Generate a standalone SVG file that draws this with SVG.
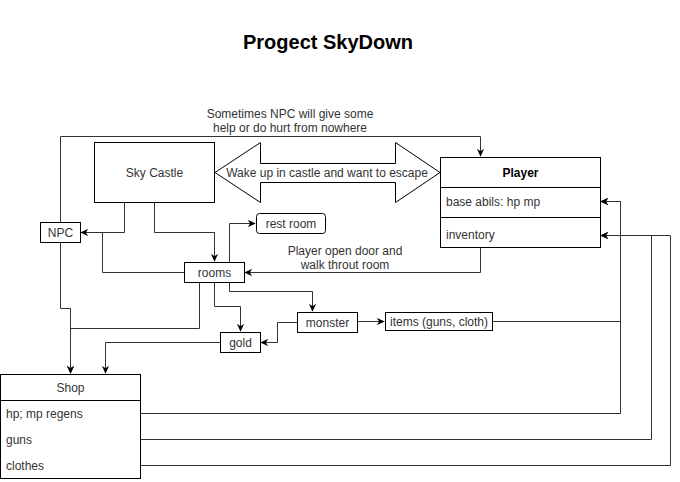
<svg xmlns="http://www.w3.org/2000/svg" width="680" height="482" viewBox="0 0 680 482">
<defs>
<style>
text{font-family:"Liberation Sans",Arial,sans-serif;font-size:12px;fill:#333}
.box{fill:#fff;stroke:#000;stroke-width:1}
.ln{fill:none;stroke:#333;stroke-width:1}
.c{text-anchor:middle}
</style>
<marker id="a" viewBox="0 0 10 10" refX="9" refY="5" markerWidth="8" markerHeight="8" markerUnits="userSpaceOnUse" orient="auto">
<path d="M0,0.5 L10,5 L0,9.5 L3,5 z" fill="#000"/>
</marker>
</defs>
<rect width="680" height="482" fill="#fff"/>
<text x="328" y="49" class="c" style="font-size:20px;font-weight:bold;fill:#000">Progect SkyDown</text>

<g id="connectors">
<path class="ln" d="M124.5,202 V232.5 H81" marker-end="url(#a)"/>
<path class="ln" d="M154.5,202 V232.5 H214.5 V261" marker-end="url(#a)"/>
<path class="ln" d="M184,272.5 H102.5 V232.5"/>
<path class="ln" d="M229.5,262 V223.5 H255" marker-end="url(#a)"/>
<path class="ln" d="M480.5,247 V272.5 H245" marker-end="url(#a)"/>
<path class="ln" d="M60.5,222 V136.5 H480.5 V156" marker-end="url(#a)"/>
<path class="ln" d="M60.5,242 V308.5 H70.5 V373" marker-end="url(#a)"/>
<path class="ln" d="M199.5,282 V328.5 H70.5 V373" marker-end="url(#a)"/>
<path class="ln" d="M214.5,282 V306.5 H240.5 V331" marker-end="url(#a)"/>
<path class="ln" d="M229.5,282 V291.5 H312.5 V311" marker-end="url(#a)"/>
<path class="ln" d="M297,322.5 H277.5 V342.5 H261" marker-end="url(#a)"/>
<path class="ln" d="M220,342.5 H105.5 V373" marker-end="url(#a)"/>
<path class="ln" d="M357,321.5 H384" marker-end="url(#a)"/>
<path class="ln" d="M492,321.5 H620.5 V201.5 H601" marker-end="url(#a)"/>
<path class="ln" d="M140,413.5 H620.5 V201.5 H601" marker-end="url(#a)"/>
<path class="ln" d="M140,439.5 H651.5 V235.5 H601" marker-end="url(#a)"/>
<path class="ln" d="M140,465.5 H670.5 V235.5 H601" marker-end="url(#a)"/>
<text x="290" y="118" class="c">Sometimes NPC will give some</text>
<text x="290" y="132" class="c">help or do hurt from nowhere</text>
<text x="345" y="255" class="c">Player open door and</text>
<text x="345" y="269" class="c">walk throut room</text>
</g>

<g id="sky-castle">
<rect class="box" x="94.5" y="142.5" width="120" height="60"/>
<text x="154.5" y="176.5" class="c">Sky Castle</text>
</g>

<g id="escape-arrow">
<path class="box" d="M215,172.5 L260.5,142.5 V163.5 H395.5 V142.5 L440,172.5 L395.5,202.5 V182.5 H260.5 V202.5 Z"/>
<text x="327" y="176.5" class="c">Wake up in castle and want to escape</text>
</g>

<g id="player">
<rect class="box" x="440.5" y="157.5" width="160" height="90"/>
<line class="box" x1="440.5" y1="187.5" x2="600.5" y2="187.5"/>
<line class="box" x1="440.5" y1="217.5" x2="600.5" y2="217.5"/>
<text x="520.5" y="176.5" class="c" style="font-weight:bold;fill:#000">Player</text>
<text x="446" y="206">base abils: hp mp</text>
<text x="446" y="239">inventory</text>
</g>

<g id="npc">
<rect class="box" x="40.5" y="222.5" width="40" height="20"/>
<text x="60.5" y="236.5" class="c">NPC</text>
</g>

<g id="rooms">
<rect class="box" x="184.5" y="262.5" width="60" height="20"/>
<text x="214.5" y="276.5" class="c">rooms</text>
</g>

<g id="rest-room">
<rect class="box" x="256.5" y="213.5" width="69" height="20" rx="3"/>
<text x="291" y="227.5" class="c">rest room</text>
</g>

<g id="monster">
<rect class="box" x="297.5" y="312.5" width="60" height="20"/>
<text x="327.5" y="326.5" class="c">monster</text>
</g>

<g id="items">
<rect class="box" x="385.5" y="312.5" width="107" height="18"/>
<text x="439" y="325.5" class="c">items (guns, cloth)</text>
</g>

<g id="gold">
<rect class="box" x="220.5" y="332.5" width="40" height="20"/>
<text x="240.5" y="346.5" class="c">gold</text>
</g>

<g id="shop">
<rect class="box" x="0.5" y="374.5" width="140" height="104"/>
<line class="box" x1="0.5" y1="400.5" x2="140.5" y2="400.5"/>
<text x="70.5" y="391.5" class="c">Shop</text>
<text x="6" y="417.5">hp; mp regens</text>
<text x="6" y="443.5">guns</text>
<text x="6" y="469.5">clothes</text>
</g>
</svg>
